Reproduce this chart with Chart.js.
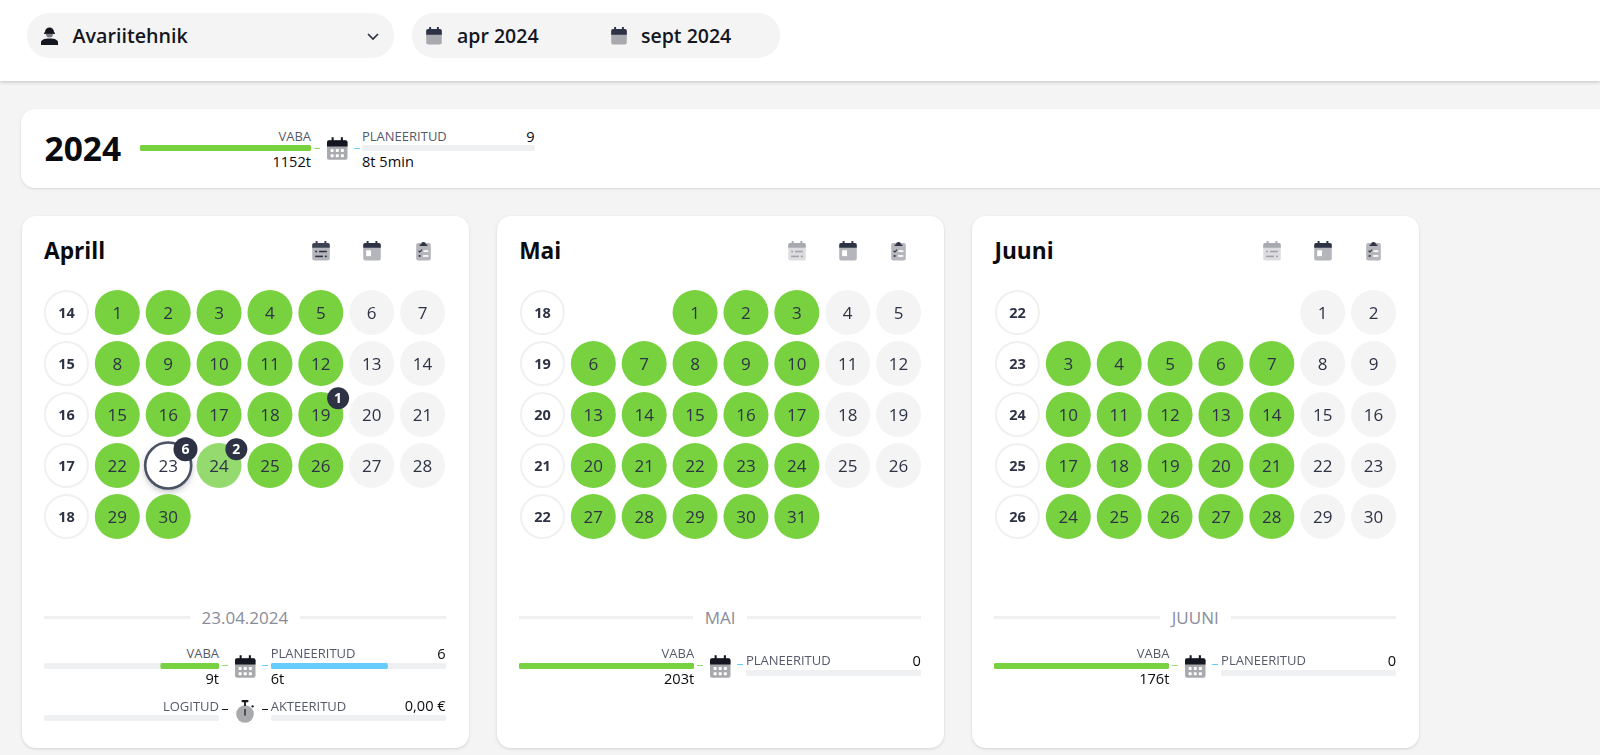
<!DOCTYPE html>
<html lang="et"><head><meta charset="utf-8"><title>Avariitehnik</title>
<script src="https://cdn.jsdelivr.net/npm/chart.js@4"></script>
<style>
html,body{margin:0;padding:0;width:1600px;height:755px;overflow:hidden;background:#f4f4f4;font-family:'Open Sans',sans-serif}
#root{position:absolute;left:0;top:0;width:1600px;height:755px;overflow:hidden}
.box{position:absolute}
.t{position:absolute;line-height:0;white-space:nowrap}
canvas{position:absolute;display:block}
svg{position:absolute;overflow:visible}
</style></head><body><div id="root"></div>
<script>
// ---------- data ----------
const monthNames=['Aprill','Mai','Juuni'];
const periodLabels=['23.04.2024','MAI','JUUNI'];
const aprilWeeks=[14,15,16,17,18];
const mayWeeks=[18,19,20,21,22];
const juneWeeks=[22,23,24,25,26];
const aprilDays=[[1,2,3,4,5,6,7],[8,9,10,11,12,13,14],[15,16,17,18,19,20,21],[22,23,24,25,26,27,28],[29,30,null,null,null,null,null]];
const mayDays=[[null,null,1,2,3,4,5],[6,7,8,9,10,11,12],[13,14,15,16,17,18,19],[20,21,22,23,24,25,26],[27,28,29,30,31,null,null]];
const juneDays=[[null,null,null,null,null,1,2],[3,4,5,6,7,8,9],[10,11,12,13,14,15,16],[17,18,19,20,21,22,23],[24,25,26,27,28,29,30]];
const aprilBadgeDays=[19,23,24];
const aprilBadgeCounts=[1,6,2];
const selectedDay=23;
const partialDay=24;
const freeHours=[9,203,176];
const freeScale=[27,203,176];
const freeLabels=['9t','203t','176t'];
const plannedHours=[6,0,0];
const plannedScale=[9,203,176];
const plannedHoursLabels=['6t','',''];
const plannedCounts=['6','0','0'];
const yearFree=[1152];
const yearPlanned=[0];
const yearLabels=['1152t','8t 5min','9'];
const loggedHours=[0];
const billedHours=[0];
const billedLabel='0,00 €';

// ---------- helpers ----------
const root=document.getElementById('root');
const INK='#2d3345',GREEN='#78d13f',LIGHTGREEN='#94da6e',BLUE='#66ccfb',TRACK='#eff0f1',LABEL='#555a6b',BLACK='#0a0a0f';
const LS=13,LW=500,VS=14.6,VW=500;
function box(x,y,w,h,css){const d=document.createElement('div');d.className='box';d.style.cssText=`left:${x}px;top:${y}px;width:${w}px;height:${h}px;${css||''}`;root.appendChild(d);return d}
function text(x,base,str,size,weight,color,align){const d=document.createElement('div');d.className='t';d.textContent=str;
 const top=base-0.388*size;
 let pos=`left:${x}px;`;if(align==='right')pos=`right:${1600-x}px;`;
 d.style.cssText=`${pos}top:${top}px;font-size:${size}px;font-weight:${weight};color:${color}`;root.appendChild(d);return d}
function svg(x,y,w,h,vb,inner,op){const ns='http://www.w3.org/2000/svg';const s=document.createElementNS(ns,'svg');
 s.setAttribute('viewBox',vb);s.setAttribute('width',w);s.setAttribute('height',h);
 s.style.cssText=`left:${x}px;top:${y}px;opacity:${op==null?1:op}`;s.innerHTML=inner;root.appendChild(s);return s}
const pegs=(c)=>`<rect x="4.5" y="0" width="2" height="4" fill="${c}"/><rect x="13.5" y="0" width="2" height="4" fill="${c}"/>`;
function calGrid(x,y){svg(x,y,20.5,23,'0 0 20 22',
 `<rect x="0" y="3" width="20" height="19" rx="2" fill="#a9aaae"/><path d="M0 9V5a2 2 0 0 1 2-2h16a2 2 0 0 1 2 2v4z" fill="#14171f"/>${pegs('#14171f')}`+
 [0,1,2].map(c=>[0,1].map(r=>`<rect x="${3.5+c*5}" y="${11.5+r*5}" width="3" height="3" rx=".7" fill="#fff"/>`).join('')).join(''))}
function calSmall(x,y){svg(x,y,16,17.5,'0 0 16 18',`<rect y="2" width="16" height="16" rx="2" fill="#a9aab0"/><path d="M0 8V4a2 2 0 0 1 2-2h12a2 2 0 0 1 2 2v4z" fill="#2d3345"/><rect x="3" width="2" height="3" fill="#2d3345"/><rect x="11" width="2" height="3" fill="#2d3345"/>`)}
function iconSchedule(x,y,op){svg(x,y,18,19.5,'0 0 18 20',`<rect y="2" width="18" height="18" rx="2" fill="#b5b6bb"/><path d="M0 7V4a2 2 0 0 1 2-2h14a2 2 0 0 1 2 2v3z" fill="#3d4253"/><rect x="3.5" width="2" height="3" fill="#3d4253"/><rect x="12.5" width="2" height="3" fill="#3d4253"/><rect x="3" y="10" width="2" height="1.6" fill="${INK}"/><rect x="7" y="10" width="8" height="1.6" fill="${INK}"/><rect x="3" y="15" width="8" height="1.6" fill="${INK}"/><rect x="13" y="15" width="2" height="1.6" fill="${INK}"/>`,op)}
function iconDay(x,y,op){svg(x,y,18,19.5,'0 0 18 20',`<rect y="2" width="18" height="18" rx="2" fill="#b5b6bb"/><path d="M0 7V4a2 2 0 0 1 2-2h14a2 2 0 0 1 2 2v3z" fill="${INK}"/><rect x="3.5" width="2" height="3" fill="${INK}"/><rect x="12.5" width="2" height="3" fill="${INK}"/><rect x="3" y="9.5" width="5" height="6" fill="#fff"/>`,op)}
function iconClip(x,y,op){svg(x,y,15,19.5,'0 0 15 20',`<rect y="2" width="15" height="18" rx="2" fill="#b5b6bb"/><path d="M3.5 5V3.5h1.5a2.5 2.5 0 0 1 5 0h1.5V5z" fill="${INK}"/><path d="M2.5 10l1.3 1.3 2.2-2.4" stroke="${INK}" stroke-width="1.1" fill="none"/><rect x="7.5" y="9.5" width="5" height="1.7" fill="#fff"/><rect x="2.5" y="14.5" width="2" height="1.7" fill="${INK}"/><rect x="7" y="14.5" width="5.5" height="1.7" fill="#fff"/>`,op)}
function stopwatch(cx,cy){svg(cx-10,cy-14,20,23,'0 0 20 23',`<circle cx="10" cy="14" r="8.8" fill="#a9aaae"/><rect x="6.5" y="0" width="7" height="2.2" rx="1" fill="#14171f"/><rect x="9.1" y="1" width="1.8" height="5" fill="#14171f"/><rect x="9.4" y="9" width="1.2" height="6.5" fill="#14171f"/><rect x="16.5" y="5" width="2.4" height="2" rx=".8" fill="#14171f" transform="rotate(30 17 6)"/>`)}

// progress bar: a horizontal bar chart on a track
function bar(x,y,w,value,max,color,reversed,label){
 const c=document.createElement('canvas');c.width=w;c.height=6;c.style.cssText=`left:${x}px;top:${y}px;width:${w}px;height:6px`;root.appendChild(c);
 new Chart(c,{type:'bar',data:{labels:[label],datasets:[
   {data:[value>0?value:null],backgroundColor:color,borderRadius:3,borderSkipped:false,barPercentage:1,categoryPercentage:1,grouped:false,order:1},
   {data:[max],backgroundColor:TRACK,borderRadius:3,borderSkipped:false,barPercentage:1,categoryPercentage:1,grouped:false,order:2}]},
  options:{indexAxis:'y',responsive:false,animation:false,events:[],layout:{padding:0,autoPadding:false},
   plugins:{legend:{display:false},tooltip:{enabled:false}},
   scales:{x:{display:false,min:0,max:max,reverse:!!reversed},y:{display:false}}}});
}
// calendar: one scatter chart per month, columns = week number + weekdays, rows = weeks
const calendarText={id:'calendarText',
 beforeDatasetsDraw(ch){const ctx=ch.ctx;ch.data.datasets[1].data.forEach(p=>{if(p.day===selectedDay&&ch.options.plugins.calendarText.hasSelected){
   ctx.save();ctx.shadowColor='rgba(45,51,69,.35)';ctx.shadowBlur=7;ctx.shadowOffsetY=3;ctx.fillStyle='#fff';ctx.beginPath();
   ctx.arc(ch.scales.x.getPixelForValue(p.x),ch.scales.y.getPixelForValue(p.y),23,0,Math.PI*2);ctx.fill();ctx.restore();}})},
 afterDatasetsDraw(ch){const ctx=ch.ctx;ctx.save();ctx.textAlign='center';ctx.textBaseline='alphabetic';
  const put=(i,size,weight,color,key)=>{const meta=ch.getDatasetMeta(i);ch.data.datasets[i].data.forEach((p,j)=>{const el=meta.data[j];
    ctx.font=`${weight} ${size}px "Open Sans"`;ctx.fillStyle=color;ctx.fillText(String(p[key]),el.x,el.y+size*0.357);});};
  put(0,14.5,700,INK,'week');put(1,17,500,INK,'day');put(2,14,700,'#fff','count');ctx.restore();}};
function calendar(x,y,weeks,grid,badgeDays,badgeCounts){
 const c=document.createElement('canvas');c.width=407;c.height=255;c.style.cssText=`left:${x}px;top:${y}px;width:407px;height:255px`;root.appendChild(c);
 const wk=weeks.map((w,r)=>({x:0,y:r,week:w}));
 const days=[];grid.forEach((row,r)=>row.forEach((d,k)=>{if(d!==null)days.push({x:k+1,y:r,day:d,weekend:k>=5})}));
 const badges=badgeDays.map((d,i)=>{const p=days.find(q=>q.day===d);return {x:p.x+0.34,y:p.y-0.32,count:badgeCounts[i],day:d}});
 const hasSel=badgeDays.length>0;
 const isSel=p=>hasSel&&p.day===selectedDay, isPart=p=>hasSel&&p.day===partialDay;
 new Chart(c,{type:'scatter',plugins:[calendarText],data:{datasets:[
  {data:wk,clip:false,pointRadius:21.5,pointBorderWidth:2,pointBorderColor:'#f0f0f1',pointBackgroundColor:'#fff'},
  {data:days,clip:false,
   pointRadius:ctx=>isSel(ctx.raw)?23:22.5,
   pointBorderWidth:ctx=>isSel(ctx.raw)?2.6:0,
   pointBorderColor:'#4c5265',
   pointBackgroundColor:ctx=>isSel(ctx.raw)?'#fff':isPart(ctx.raw)?LIGHTGREEN:ctx.raw.weekend?'#f4f4f5':GREEN},
  {data:badges,clip:false,order:-1,pointRadius:ctx=>isSel(ctx.raw)?12:11,pointBorderWidth:0,pointBackgroundColor:INK}]},
  options:{responsive:false,animation:false,events:[],layout:{padding:0,autoPadding:false},
   plugins:{legend:{display:false},tooltip:{enabled:false},calendarText:{hasSelected:hasSel}},
   scales:{x:{type:'linear',display:false,min:-0.5,max:7.5},y:{type:'linear',display:false,min:-0.5,max:4.5,reverse:true}}}});
}
function dash(x,y,w,color){box(x,y-0.75,w,1.5,`background:${color}`)}

// ---------- header ----------
box(0,0,1600,81,'background:#fff;box-shadow:0 1px 4px rgba(0,0,0,.22)');
box(27,13,367,44.5,'background:#f4f4f4;border-radius:22px');
box(412,13,368,44.5,'background:#f4f4f4;border-radius:22px');
svg(41,26.5,17,18,'0 0 17 18',`<path d="M4 5a4.5 4.5 0 0 1 9 0v1H4z" fill="#14171f"/><rect x="3" y="5.5" width="11" height="1.4" fill="#14171f"/><path d="M5 7h7a3.5 3.5 0 0 1-7 0z" fill="#777b85"/><path d="M0 18v-2.5c0-2.5 3-4 8.500-4s8.500 1.500 8.500 4V18z" fill="#14171f"/>`);
text(72.5,43.3,'Avariitehnik',19.7,600,'#14171f');
svg(366.5,32.500,12,7,'0 0 12 7',`<path d="M1 1l5 5 5-5" fill="none" stroke="#2d3345" stroke-width="1.7"/>`);
calSmall(426,26.5);text(457,43.3,'apr 2024',19.5,600,'#14171f');
calSmall(611,26.5);text(641,43.3,'sept 2024',19.5,600,'#14171f');

// ---------- year card ----------
box(21,108.5,1640,79.5,'background:#fff;border-radius:14px;box-shadow:0 1px 3px rgba(0,0,0,.12)');
text(44.5,161.2,'2024',33.5,700,BLACK);
text(311,140.7,'VABA',LS,LW,LABEL,'right');
text(311,167,yearLabels[0],VS,VW,BLACK,'right');
bar(139.5,145.3,171.5,yearFree[0],yearFree[0],GREEN,true,'VABA');
dash(314,148.3,6,LIGHTGREEN);calGrid(326.5,137);dash(354,148.3,6,BLUE);
text(362,140.7,'PLANEERITUD',LS,LW,LABEL);
text(534.7,141.4,yearLabels[2],VS,VW,BLACK,'right');
bar(362,145.3,172.7,yearPlanned[0],yearFree[0],BLUE,false,'PLANEERITUD');
text(362,167,yearLabels[1],VS,VW,BLACK);

// ---------- month cards ----------
const allWeeks=[aprilWeeks,mayWeeks,juneWeeks],allDays=[aprilDays,mayDays,juneDays];
const badgeDaysBy=[aprilBadgeDays,[],[]],badgeCountsBy=[aprilBadgeCounts,[],[]];
const STEP=475.2,firstIconFade=[1,.45,.45];
monthNames.forEach((name,i)=>{
 const o=i*STEP;
 box(21.5+o,216,447,532,'background:#fff;border-radius:14px;box-shadow:0 1px 3px rgba(0,0,0,.14)');
 text(44+o,260,name,22.7,700,BLACK);
 iconSchedule(312.3+o,241,firstIconFade[i]);iconDay(363.3+o,241);iconClip(415.5+o,241);
 calendar(41.3+o,287.2,allWeeks[i],allDays[i],badgeDaysBy[i],badgeCountsBy[i]);
 // period separator
 const sep=box(44+o,607,401.7,22,`display:flex;align-items:center;gap:12px;color:#8a8d98;font-size:17px;font-weight:500;line-height:22px`);
 const line=()=>{const l=document.createElement('div');l.style.cssText=`flex:1;height:3px;background:${TRACK};margin-top:-1.500px`;return l};
 const lab=document.createElement('span');lab.textContent=periodLabels[i];
 sep.append(line(),lab,line());
 // stat rows
 text(219+o,658,'VABA',LS,LW,LABEL,'right');
 bar(44+o,662.7,175,freeHours[i],freeScale[i],GREEN,true,'VABA');
 text(219+o,683.5,freeLabels[i],VS,VW,BLACK,'right');
 dash(222+o,665.7,5.7,LIGHTGREEN);calGrid(234.7+o,654.5);
 const hasHours=plannedHoursLabels[i]!=='';
 const py=hasHours?0:7.300;
 dash(262+o,hasHours?665.7:664.3,5.5,BLUE);
 text(270.7+o,658+py,'PLANEERITUD',LS,LW,LABEL);
 text(445.7+o,658.7+py,plannedCounts[i],VS,VW,BLACK,'right');
 bar(270.7+o,662.7+py,175,plannedHours[i],plannedScale[i],BLUE,false,'PLANEERITUD');
 if(hasHours){
  text(270.7+o,683.5,plannedHoursLabels[i],VS,VW,BLACK);
  text(219+o,710.7,'LOGITUD',LS,LW,LABEL,'right');
  bar(44+o,715,175,loggedHours[0],1,GREEN,true,'LOGITUD');
  dash(222+o,709.3,5.5,'#14171f');stopwatch(245+o,714);dash(262+o,709.3,5.5,'#14171f');
  text(270.7+o,710.7,'AKTEERITUD',LS,LW,LABEL);
  text(445.7+o,711,billedLabel,VS,VW,BLACK,'right');
  bar(270.7+o,715,175,billedHours[0],1,BLUE,false,'AKTEERITUD');
 }
});
</script></body></html>
